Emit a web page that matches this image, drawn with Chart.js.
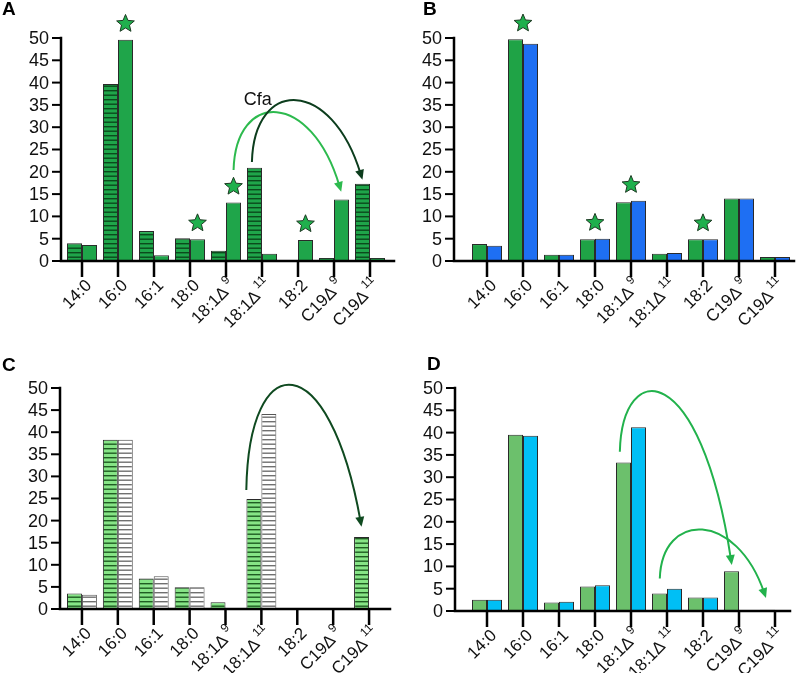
<!DOCTYPE html>
<html>
<head>
<meta charset="utf-8">
<script src="https://cdn.jsdelivr.net/npm/chart.js@4.4.1/dist/chart.umd.min.js"></script>
<style>
  body { margin: 0; background: #fff; }
  #page { position: relative; width: 800px; height: 673px; overflow: hidden; background: #fff; }
  canvas { position: absolute; }
  .tag { position: absolute; font: bold 19px "Liberation Sans", Arial, sans-serif; line-height: 19px; color: #000; }
</style>
</head>
<body>
<div id="page">
  <canvas id="chartA" width="400" height="340" style="left:0;top:0"></canvas>
  <canvas id="chartB" width="400" height="340" style="left:400px;top:0"></canvas>
  <canvas id="chartC" width="400" height="333" style="left:0;top:340px"></canvas>
  <canvas id="chartD" width="400" height="333" style="left:400px;top:340px"></canvas>
  <div class="tag" style="left:2px;top:-1px">A</div>
  <div class="tag" style="left:423px;top:-1px">B</div>
  <div class="tag" style="left:2px;top:355px">C</div>
  <div class="tag" style="left:427px;top:354px">D</div>
</div>
<script>
// fatty acid categories (Δ followed by digits -> superscript)
const categories = ["14:0", "16:0", "16:1", "18:0", "18:1Δ9", "18:1Δ11", "18:2", "C19Δ9", "C19Δ11"];
const yTicks = [0, 5, 10, 15, 20, 25, 30, 35, 40, 45, 50];

// panel A
const aHatched = [4.0, 39.7, 6.7, 5.1, 2.3, 20.9, null, 0.7, 17.3];
const aSolid   = [3.6, 49.6, 1.3, 4.9, 13.1, 1.6, 4.7, 13.8, 0.7];
const aStars   = [1, 3, 4, 6];
// panel B
const bGreen = [3.8, 49.7, 1.4, 4.9, 13.2, 1.6, 4.9, 14.0, 0.9];
const bBlue  = [3.4, 48.7, 1.4, 5.0, 13.5, 1.8, 4.9, 14.0, 0.9];
const bStars = [1, 3, 4, 6];
// panel C
const cGreen = [3.5, 38.3, 6.9, 4.9, 1.5, 24.9, null, null, 16.3];
const cWhite = [3.2, 38.3, 7.4, 4.9, null, 44.1, null, null, null];
// panel D
const dGreen = [2.5, 39.5, 1.9, 5.5, 33.3, 3.9, 3.0, 8.9, 0.3];
const dBlue  = [2.5, 39.3, 2.1, 5.8, 41.2, 5.0, 3.0, null, null];

// arrows: [category index, value] -> [category index, value], top of arc in value units
const aArrows = [
  { from: [4.21, 20.4], to: [7.2, 15.5], peak: 33.2, color: "#2dba4e" },
  { from: [4.72, 22.2], to: [7.79, 18.2], peak: 35.9, color: "#0c3d1d" },
];
const cArrows = [
  { from: [4.58, 26.9], to: [7.79, 18.6], peak: 50.5, color: "#0f4a20" },
];
const dArrows = [
  { from: [3.69, 35.7], to: [6.8, 10.3], peak: 48.3, color: "#22b24c" },
  { from: [4.8, 7.3], to: [7.75, 2.9], peak: 18.1, color: "#22b24c" },
];

const FONT_Y = '18px "Liberation Sans", Arial, sans-serif';
const FONT_X = '17px "Liberation Sans", Arial, sans-serif';
const FONT_SUP = '12px "Liberation Sans", Arial, sans-serif';

function hatch(canvasId, bg, line){
  const c = document.createElement("canvas");
  c.width = 6; c.height = 9;
  const g = c.getContext("2d");
  g.fillStyle = bg; g.fillRect(0, 0, 6, 9);
  g.fillStyle = line;
  g.fillRect(0, 0, 6, 1.4);
  g.fillRect(0, 4.5, 6, 1.4);
  return document.getElementById(canvasId).getContext("2d").createPattern(c, "repeat");
}

function starPath(ctx, cx, cy, R){
  const r = R * 0.45;
  ctx.beginPath();
  for (let k = 0; k < 10; k++) {
    const rad = k % 2 ? r : R;
    const a = -Math.PI / 2 + k * Math.PI / 5;
    const px = cx + rad * Math.cos(a), py = cy + rad * Math.sin(a);
    k ? ctx.lineTo(px, py) : ctx.moveTo(px, py);
  }
  ctx.closePath();
}

function drawArrow(ctx, x, y, a){
  const x0 = x.getPixelForValue(a.from[0]), y0 = y.getPixelForValue(a.from[1]);
  const x3 = x.getPixelForValue(a.to[0]), y3 = y.getPixelForValue(a.to[1]);
  const yp = y.getPixelForValue(a.peak);
  const dx = x3 - x0;
  // control points: near-vertical rise, long sweeping descent
  const p1x = x0 + 0.02 * dx, p2x = x3 - 0.28 * dx;
  const c = (yp - (y0 + y3) / 8) / 0.75;
  const ang = Math.atan2(y3 - c, x3 - p2x);
  const hl = 10, hw = 4.5;
  const ex = x3 - Math.cos(ang) * hl * 0.6, ey = y3 - Math.sin(ang) * hl * 0.6;
  ctx.strokeStyle = a.color; ctx.fillStyle = a.color; ctx.lineWidth = 2;
  ctx.beginPath();
  ctx.moveTo(x0, y0);
  ctx.bezierCurveTo(p1x, c, p2x, c, ex, ey);
  ctx.stroke();
  ctx.beginPath();
  ctx.moveTo(x3, y3);
  ctx.lineTo(x3 - Math.cos(ang) * hl + Math.sin(ang) * hw, y3 - Math.sin(ang) * hl - Math.cos(ang) * hw);
  ctx.lineTo(x3 - Math.cos(ang) * hl - Math.sin(ang) * hw, y3 - Math.sin(ang) * hl + Math.cos(ang) * hw);
  ctx.closePath();
  ctx.fill();
}

function drawDecor(chart, cfg){
  const { ctx, chartArea, scales: { x, y } } = chart;
  const y0 = y.getPixelForValue(0);
  const yTop = y.getPixelForValue(50);
  const ax = chartArea.left - cfg.gap;
  ctx.save();

  // axes
  ctx.strokeStyle = "#000"; ctx.lineWidth = 2.5; ctx.lineCap = "square";
  ctx.beginPath();
  ctx.moveTo(ax, yTop); ctx.lineTo(ax, y0); ctx.lineTo(chartArea.right + cfg.ext, y0);
  ctx.stroke();
  ctx.lineCap = "butt";

  // y ticks + labels
  ctx.font = FONT_Y; ctx.fillStyle = "#111"; ctx.textAlign = "right"; ctx.textBaseline = "middle";
  yTicks.forEach(v => {
    const py = y.getPixelForValue(v);
    ctx.lineWidth = 2;
    ctx.beginPath(); ctx.moveTo(ax - 9, py); ctx.lineTo(ax, py); ctx.stroke();
    ctx.fillText(String(v), ax - 12, py + 1);
  });

  // x ticks + rotated labels
  categories.forEach((lab, i) => {
    const px = x.getPixelForValue(i);
    ctx.lineWidth = 2.5;
    ctx.beginPath(); ctx.moveTo(px, y0); ctx.lineTo(px, y0 + 16); ctx.stroke();
    const m = /^(.*Δ)(\d+)$/.exec(lab);
    const base = m ? m[1] : lab, sup = m ? m[2] : "";
    ctx.save();
    ctx.translate(px + 7, y0 + 22);
    ctx.rotate(-Math.PI / 4);
    ctx.textAlign = "left"; ctx.textBaseline = "middle";
    ctx.font = FONT_SUP;
    const ws = sup ? ctx.measureText(sup).width + 3 : 0;
    ctx.font = FONT_X;
    const wb = ctx.measureText(base).width;
    ctx.fillText(base, -(wb + ws), 0);
    if (sup) { ctx.font = FONT_SUP; ctx.fillText(sup, -ws + 3, -7); }
    ctx.restore();
  });

  // stars
  if (cfg.stars) {
    cfg.stars.forEach(i => {
      let cx, top;
      if (cfg.starOver === "both") {
        const e0 = chart.getDatasetMeta(0).data[i], e1 = chart.getDatasetMeta(1).data[i];
        cx = x.getPixelForValue(i); top = Math.min(e0.y, e1.y);
      } else {
        const e = chart.getDatasetMeta(cfg.starOver).data[i];
        cx = e.x; top = e.y;
      }
      starPath(ctx, cx, top - 16, 9.3);
      ctx.fillStyle = "#1fb04d"; ctx.fill();
      ctx.strokeStyle = "#1c3a22"; ctx.lineWidth = 1; ctx.stroke();
    });
  }

  // arrows
  (cfg.arrows || []).forEach(a => drawArrow(ctx, x, y, a));

  // text annotations
  (cfg.texts || []).forEach(t => {
    ctx.font = '18px "Liberation Sans", Arial, sans-serif';
    ctx.fillStyle = "#111"; ctx.textAlign = "center"; ctx.textBaseline = "middle";
    ctx.fillText(t.text, x.getPixelForValue(t.at[0]), y.getPixelForValue(t.at[1]));
  });
  ctx.restore();
}

function makeChart(id, datasets, pad, cfg){
  return new Chart(document.getElementById(id), {
    type: "bar",
    data: { labels: categories, datasets },
    options: {
      responsive: false,
      animation: false,
      devicePixelRatio: 1,
      layout: { padding: pad },
      plugins: { legend: { display: false }, tooltip: { enabled: false } },
      datasets: { bar: { categoryPercentage: 30 / 36, barPercentage: 1, borderWidth: 1, borderColor: "#2a2a2a", borderSkipped: "start" } },
      scales: {
        x: { display: false, offset: true },
        y: { display: false, min: 0, max: 50 },
      },
    },
    plugins: [{ id: "decor" + id, afterDatasetsDraw(chart){ drawDecor(chart, cfg); } }],
  });
}

makeChart("chartA", [
  { data: aHatched, backgroundColor: hatch("chartA", "#1fa54a", "#0b4a1c") },
  { data: aSolid, backgroundColor: "#1fa54a" },
], { left: 64, right: 12, top: 38, bottom: 79 }, { gap: 3, ext: 6, stars: aStars, starOver: 1, arrows: aArrows, texts: [{ text: "Cfa", at: [4.88, 36.1] }] });

makeChart("chartB", [
  { data: bGreen, backgroundColor: "#1fa346" },
  { data: bBlue, backgroundColor: "#1e6ff3" },
], { left: 69, right: 7, top: 38, bottom: 79 }, { gap: 15, ext: 1, stars: bStars, starOver: "both" });

makeChart("chartC", [
  { data: cGreen, backgroundColor: hatch("chartC", "#86e486", "#1f5c22") },
  { data: cWhite, backgroundColor: hatch("chartC", "#ffffff", "#707070"), borderColor: "#555" },
], { left: 64, right: 13, top: 48, bottom: 64 }, { gap: 4, ext: 3, arrows: cArrows });

makeChart("chartD", [
  { data: dGreen, backgroundColor: "#6cc06c" },
  { data: dBlue, backgroundColor: "#00bff5" },
], { left: 69, right: 7, top: 48, bottom: 62 }, { gap: 14, ext: -3, arrows: dArrows });
</script>
</body>
</html>
